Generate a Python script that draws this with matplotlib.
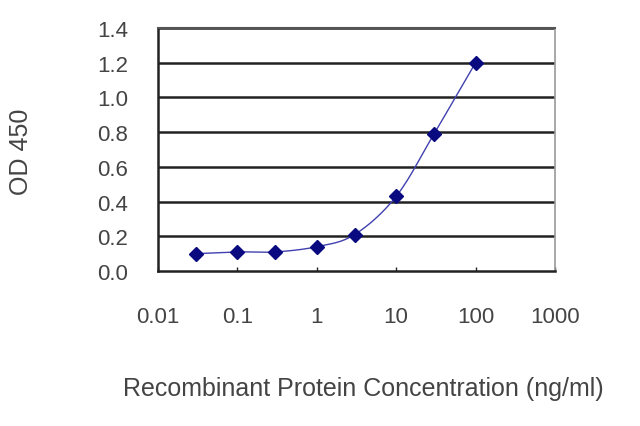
import numpy as np
import matplotlib
matplotlib.use('Agg')
import matplotlib.pyplot as plt

# concentrations (ng/ml) and OD450 readings
conc = [0.03, 0.1, 0.3, 1, 3, 10, 30, 100]
od450 = [0.10, 0.11, 0.11, 0.14, 0.21, 0.43, 0.79, 1.20]
x_ticks = [0.01, 0.1, 1, 10, 100, 1000]
x_tick_labels = ['0.01', '0.1', '1', '10', '100', '1000']
y_ticks = [0.0, 0.2, 0.4, 0.6, 0.8, 1.0, 1.2, 1.4]
y_tick_labels = ['0.0', '0.2', '0.4', '0.6', '0.8', '1.0', '1.2', '1.4']


def smooth_line(xs, ys, n=30):
    # Catmull-Rom through the points in log-x space, like an Excel smoothed line
    lx = np.log10(xs)
    ys = np.asarray(ys, dtype=float)
    px = np.concatenate([[2 * lx[0] - lx[1]], lx, [2 * lx[-1] - lx[-2]]])
    py = np.concatenate([[2 * ys[0] - ys[1]], ys, [2 * ys[-1] - ys[-2]]])
    outx, outy = [], []
    t = np.linspace(0, 1, n)
    for i in range(1, len(px) - 2):
        for p, out in ((px, outx), (py, outy)):
            p0, p1, p2, p3 = p[i - 1], p[i], p[i + 1], p[i + 2]
            out.extend(0.5 * ((2 * p1) + (-p0 + p2) * t
                              + (2 * p0 - 5 * p1 + 4 * p2 - p3) * t ** 2
                              + (-p0 + 3 * p1 - 3 * p2 + p3) * t ** 3))
    return 10 ** np.array(outx), np.array(outy)


plt.rcParams['font.family'] = ['Liberation Sans', 'DejaVu Sans']

fig = plt.figure(figsize=(6.4, 4.27), dpi=100)
ax = fig.add_axes([0.247, 0.363, 0.62, 0.569])

ax.set_xscale('log')
ax.set_xlim(0.01, 1000)
ax.set_ylim(0, 1.4)

for y in y_ticks[1:]:
    ax.axhline(y, color='#222222', linewidth=1.8, zorder=1)

sx, sy = smooth_line(conc, od450)
ax.plot(sx, sy, color='#4040b0', linewidth=1.0, zorder=2)
ax.plot(conc, od450, linestyle='none', marker='D', markersize=7,
        color='#0a0a80', zorder=3)

ax.set_xticks(x_ticks)
ax.set_xticklabels(x_tick_labels)
ax.xaxis.set_minor_locator(matplotlib.ticker.NullLocator())
ax.set_yticks(y_ticks)
ax.set_yticklabels(y_tick_labels)
ax.tick_params(axis='x', direction='in', length=3, width=1, colors='#222222',
               pad=25, labelsize=16, labelcolor='#444444')
ax.tick_params(axis='y', length=0, pad=21.5, labelsize=16, labelcolor='#444444')

for side in ['left', 'bottom']:
    ax.spines[side].set_color('#222222')
    ax.spines[side].set_linewidth(1.8)
ax.spines['right'].set_color('#999999')
ax.spines['right'].set_linewidth(1.2)
ax.spines['top'].set_color('#555555')
ax.spines['top'].set_linewidth(1.5)

ax.set_ylabel('OD 450', fontsize=18, color='#444444')
ax.yaxis.label.set_va('center')
ax.yaxis.set_label_coords(-0.345, 0.494)
ax.set_xlabel('Recombinant Protein Concentration (ng/ml)', fontsize=18,
              color='#444444')
ax.xaxis.label.set_va('center')
ax.xaxis.set_label_coords(0.516, -0.481)

plt.savefig('out.png', dpi=100)
